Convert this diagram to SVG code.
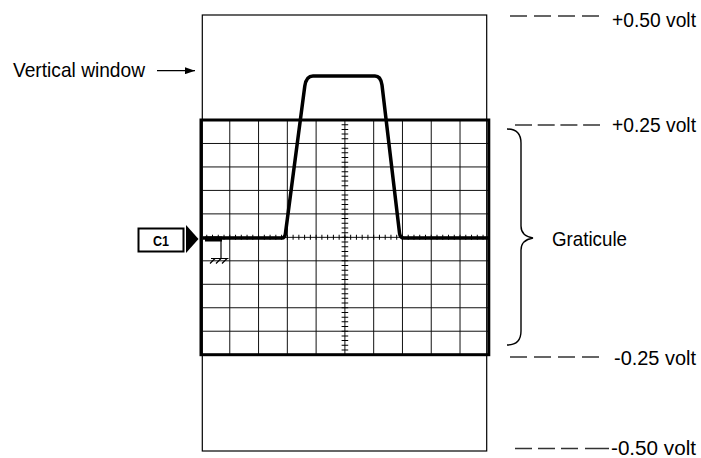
<svg xmlns="http://www.w3.org/2000/svg" width="701" height="458" viewBox="0 0 701 458">
<style>
.lbl{font-family:"Liberation Sans",Arial,sans-serif;font-size:21px;fill:#000}
.lv{font-family:"Liberation Sans",Arial,sans-serif;font-size:20px;fill:#000}
.grid{stroke:#111;stroke-width:1;fill:none}
.dash{stroke:#333;stroke-width:1.3;fill:none}
.thin{stroke:#000;stroke-width:1.2;fill:none}
</style>
<defs>
<marker id="ah" viewBox="0 0 10 7" refX="10" refY="3.5" markerWidth="10" markerHeight="7" markerUnits="userSpaceOnUse" orient="auto">
<path d="M0,0 L10,3.5 L0,7 Z" fill="#000"/>
</marker>
</defs>
<rect width="701" height="458" fill="#fff"/>
<g id="vertical-window">
<rect x="202.3" y="15" width="284.4" height="436" class="thin"/>
</g>
<g id="graticule">
<path class="grid" d="M229.78,120V354.7M258.56,120V354.7M287.34,120V354.7M316.12,120V354.7M344.9,120V354.7M373.68,120V354.7M402.46,120V354.7M431.24,120V354.7M460.02,120V354.7"/>
<path class="grid" d="M201,143.47H488.8M201,166.94H488.8M201,190.41H488.8M201,213.88H488.8M201,237.35H488.8M201,260.82H488.8M201,284.29H488.8M201,307.76H488.8M201,331.23H488.8"/>
<line x1="206.26" y1="237.35" x2="484" y2="237.35" stroke="#000" stroke-width="5" stroke-dasharray="1 4.756"/>
<line x1="344.9" y1="124.19" x2="344.9" y2="351" stroke="#000" stroke-width="6.6" stroke-dasharray="1 3.694"/>
<rect x="201" y="120" width="287.8" height="234.7" fill="none" stroke="#000" stroke-width="3"/>
</g>
<g id="trace">
<path d="M203,238 L282,238 Q285,238 285.5,233 L304.8,86 Q306.3,76 313,76 L375,76 Q380.7,76 382,85 L399.5,233 Q400,238 404,238 L488,238" fill="none" stroke="#000" stroke-width="3.5" stroke-linejoin="round"/>
</g>
<g id="ground">
<rect x="205" y="236.5" width="17" height="5" fill="#000"/>
<path class="thin" d="M221,241V258.5M211,258.5H228.5M215,258.5L210,263.5M221,258.5L216,263.5M227,258.5L222,263.5"/>
</g>
<g id="c1-marker">
<rect x="138.5" y="228.5" width="45" height="23" fill="#fff" stroke="#000" stroke-width="2"/>
<text x="161" y="245.5" text-anchor="middle" font-family="'Liberation Sans',Arial,sans-serif" font-size="14" font-weight="bold" textLength="16" lengthAdjust="spacingAndGlyphs">C1</text>
<polygon points="186,225 198.5,239 186,253" fill="#000"/>
</g>
<g id="level-marks">
<path class="dash" d="M510,16H600" stroke-dasharray="17 7"/>
<path class="dash" d="M515,125H600" stroke-dasharray="17 5.7"/>
<path class="dash" d="M510,357H600" stroke-dasharray="17 7"/>
<path class="dash" d="M515,448.5H532M538,448.5H555M561,448.5H578M585,448.5H609"/>
</g>
<g id="brace">
<path d="M507,129 Q521,129 521,143 L521,226 Q521,236 533,238 Q521,240 521,250 L521,331 Q521,345 507,345" fill="none" stroke="#000" stroke-width="1.4"/>
</g>
<g id="labels">
<text class="lbl" x="13" y="77" textLength="132" lengthAdjust="spacingAndGlyphs">Vertical window</text>
<text class="lv" x="612" y="26.5" textLength="84" lengthAdjust="spacingAndGlyphs">+0.50 volt</text>
<text class="lv" x="612" y="132" textLength="84" lengthAdjust="spacingAndGlyphs">+0.25 volt</text>
<text class="lv" x="614" y="365" textLength="82" lengthAdjust="spacingAndGlyphs">-0.25 volt</text>
<text class="lv" x="611" y="455" textLength="85" lengthAdjust="spacingAndGlyphs">-0.50 volt</text>
<text class="lbl" x="552" y="246" textLength="75" lengthAdjust="spacingAndGlyphs">Graticule</text>
</g>
<g id="connectors">
<line x1="157" y1="70.7" x2="195" y2="70.7" stroke="#000" stroke-width="1.3" marker-end="url(#ah)"/>
</g>
</svg>
